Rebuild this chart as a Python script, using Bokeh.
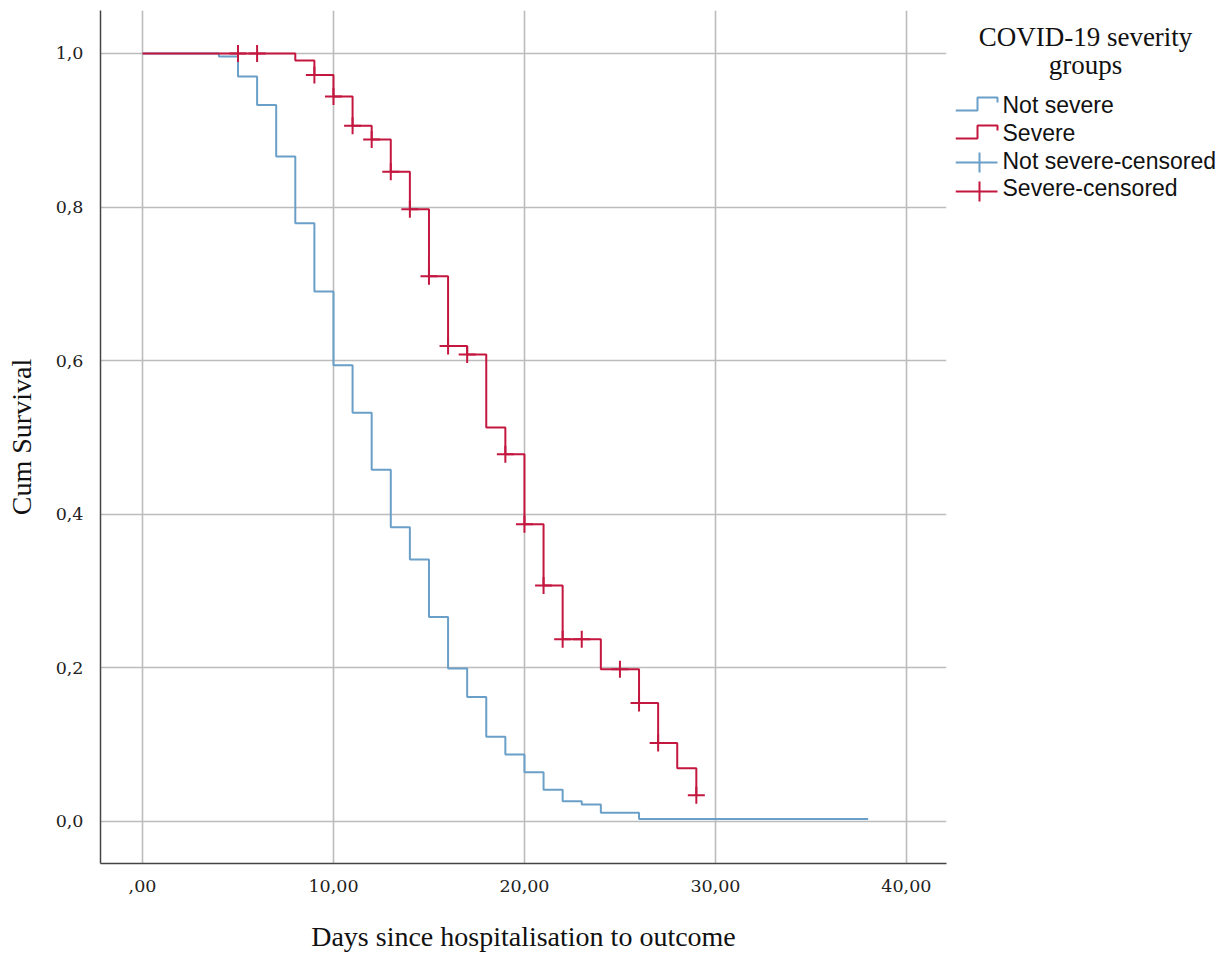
from bokeh.plotting import figure
from bokeh.models import Range1d, FixedTicker
from bokeh.layouts import row
from bokeh.core.properties import value
from bokeh.embed import file_html
from bokeh.resources import INLINE

# ---------------- data ----------------
not_severe_days = [0, 4, 5, 6, 7, 8, 9, 10, 11, 12, 13, 14, 15, 16, 17, 18, 19, 20, 21, 22, 23, 24, 26, 38]
not_severe_surv = [1.0, 0.996, 0.970, 0.933, 0.866, 0.779, 0.690, 0.594, 0.532, 0.458, 0.383, 0.341,
                   0.266, 0.199, 0.162, 0.110, 0.087, 0.064, 0.041, 0.026, 0.022, 0.011, 0.003, 0.003]

severe_days = [0, 8, 9, 10, 11, 12, 13, 14, 15, 16, 17, 18, 19, 20, 21, 22, 24, 26, 27, 28, 29]
severe_surv = [1.0, 0.991, 0.972, 0.944, 0.906, 0.888, 0.846, 0.797, 0.710, 0.619, 0.608, 0.513,
               0.478, 0.387, 0.307, 0.237, 0.198, 0.154, 0.102, 0.069, 0.034]

severe_cens_days = [5, 6, 9, 10, 11, 12, 13, 14, 15, 16, 17, 19, 20, 21, 22, 23, 25, 26, 27, 29]
severe_cens_surv = [1.0, 1.0, 0.972, 0.944, 0.906, 0.888, 0.846, 0.797, 0.710, 0.619, 0.608, 0.478,
                    0.387, 0.307, 0.237, 0.237, 0.198, 0.154, 0.102, 0.034]

x_ticks = [0, 10, 20, 30, 40]
x_tick_labels = [",00", "10,00", "20,00", "30,00", "40,00"]
y_ticks = [0.0, 0.2, 0.4, 0.6, 0.8, 1.0]
y_tick_labels = ["0,0", "0,2", "0,4", "0,6", "0,8", "1,0"]

legend_title = ["COVID-19 severity", "groups"]
legend_names = ["Not severe", "Severe", "Not severe-censored", "Severe-censored"]

x_label = "Days since hospitalisation to outcome"
y_label = "Cum Survival"

BLUE = "#6a9fc8"
RED = "#c4173f"
SERIF = "Liberation Serif"

# ---------------- main plot ----------------
p = figure(width=955, height=958, output_backend="svg", toolbar_location=None,
           x_range=Range1d(-2.2, 42.1), y_range=Range1d(-0.055, 1.056),
           min_border_left=100, min_border_right=9, min_border_top=10, min_border_bottom=95)
p.outline_line_color = None
p.background_fill_color = "white"

p.xaxis.ticker = FixedTicker(ticks=x_ticks)
p.yaxis.ticker = FixedTicker(ticks=y_ticks)
p.xaxis.major_label_overrides = {t: l for t, l in zip(x_ticks, x_tick_labels)}
p.yaxis.major_label_overrides = {t: l for t, l in zip(y_ticks, y_tick_labels)}

for ax in (p.xaxis, p.yaxis):
    ax.major_tick_line_color = None
    ax.minor_tick_line_color = None
    ax.major_tick_out = 0
    ax.major_tick_in = 0
    ax.axis_line_color = "#444444"
    ax.axis_line_width = 1.5
    ax.major_label_text_font = "DejaVu Serif"
    ax.major_label_text_font_size = "17.5px"
    ax.major_label_text_color = "#222222"
    ax.axis_label_text_font = SERIF
    ax.axis_label_text_font_size = "28px"
    ax.axis_label_text_font_style = "normal"
    ax.axis_label_text_color = "#111111"

p.xaxis.axis_label = x_label
p.yaxis.axis_label = y_label
p.xaxis.major_label_standoff = 16
p.xaxis.axis_label_standoff = 26
p.yaxis.major_label_standoff = 17
p.yaxis.axis_label_standoff = 16

p.grid.grid_line_color = "#bcbcbc"
p.grid.grid_line_width = 1.6

p.step(not_severe_days, not_severe_surv, mode="after", line_color=BLUE, line_width=2)
p.step(severe_days, severe_surv, mode="after", line_color=RED, line_width=2)
p.scatter(severe_cens_days, severe_cens_surv, marker="cross", size=17, line_color=RED, line_width=2)

# ---------------- legend panel (pixel coordinates, frame aligned with main frame) ----------------
lg = figure(width=276, height=958, output_backend="svg", toolbar_location=None,
            x_range=Range1d(0, 276), y_range=Range1d(863, 10),
            x_axis_location=None, y_axis_location=None,
            min_border_left=0, min_border_right=0, min_border_top=10, min_border_bottom=95)
lg.outline_line_color = None
lg.grid.visible = False

lg.text(x=[130, 130], y=[36, 64], text=legend_title, text_font=value(SERIF),
        text_font_size="27px", text_align="center", text_baseline="middle", text_color="#111111")

row_mid = [104, 132, 160, 187]
lg.text(x=[47] * 4, y=row_mid, text=legend_names, text_font=value("Liberation Sans"),
        text_font_size="23px", text_align="left", text_baseline="middle", text_color="#111111")

# step icons
for col, yb in ((BLUE, 110), (RED, 138)):
    lg.line([0, 22, 22, 42, 42], [yb, yb, yb - 13, yb - 13, yb - 8], line_color=col, line_width=2)
# censored icons
for col, yc in ((BLUE, 162), (RED, 191)):
    lg.line([0, 42], [yc, yc], line_color=col, line_width=2)
    lg.line([24, 24], [yc - 10, yc + 10], line_color=col, line_width=2)

layout = row(p, lg)
open("out.html", "w").write(file_html(layout, INLINE))
